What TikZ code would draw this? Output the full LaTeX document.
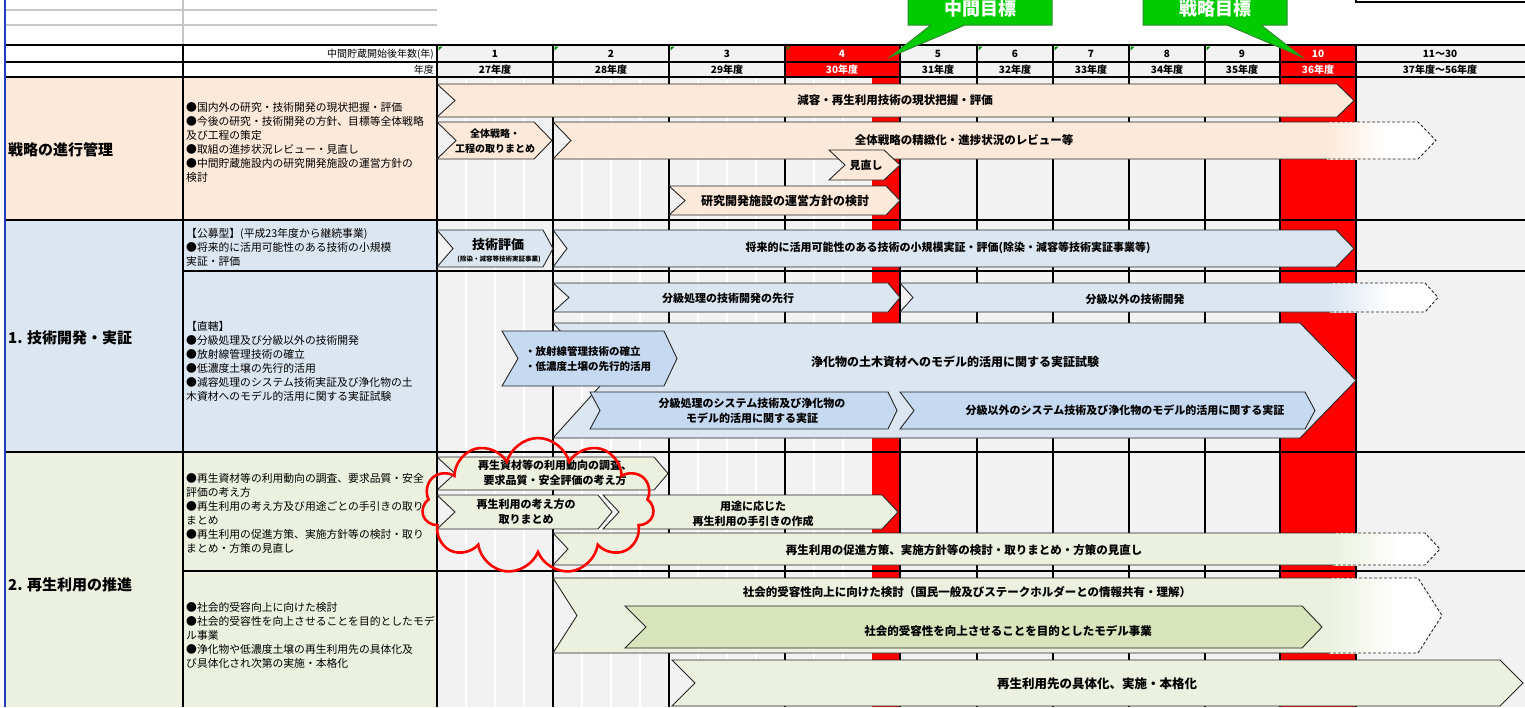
\documentclass[tikz,border=0pt]{standalone}
\usepackage{fontspec}
\setmainfont{Noto Sans CJK JP}
\usetikzlibrary{shapes.symbols}
\definecolor{Peach}{HTML}{FDE9D9}
\definecolor{PaleBlue}{HTML}{DCE6F1}
\definecolor{MidBlue}{HTML}{C5D9F1}
\definecolor{PaleGreen}{HTML}{EBF1DE}
\definecolor{MidGreen}{HTML}{D8E4BC}
\definecolor{CellGray}{HTML}{F2F2F2}
\definecolor{Marker}{HTML}{FF0000}
\definecolor{GoalGreen}{HTML}{00CC00}
\definecolor{GoalEdge}{HTML}{2E8B2E}
\definecolor{FrameBlue}{HTML}{1F3FBF}

% chevron bar: style, x left, y top, x tip, y bottom, notch depth, tip depth
\newcommand{\chevbar}[7]{%
  \filldraw[#1] (#2,#3) -- ({#4-#7},#3) -- (#4,{(#3+#5)/2}) -- ({#4-#7},#5)
    -- (#2,#5) -- ({#2+#6},{(#3+#5)/2}) -- cycle;}
% open-ended bar: colour, x left, y top, x tip, y bottom, depth, fade start, fade end
\newcommand{\fadebar}[8]{%
  \fill[#1] (#2,#3) -- (#7,#3) -- (#7,#5) -- (#2,#5) -- ({#2+#6},{(#3+#5)/2}) -- cycle;
  \shade[left color=#1, right color=white] (#7,#3) rectangle (#8,#5);
  \fill[white] (#8,#3) -- ({#4-#6},#3) -- (#4,{(#3+#5)/2}) -- ({#4-#6},#5) -- (#8,#5) -- cycle;
  \draw[barline] (#7,#3) -- (#2,#3) -- ({#2+#6},{(#3+#5)/2}) -- (#2,#5) -- (#7,#5);
  \draw[barline, dash pattern=on 3pt off 2pt] (#7,#3) -- ({#4-#6},#3) -- (#4,{(#3+#5)/2})
    -- ({#4-#6},#5) -- (#7,#5);}

\begin{document}
\begin{tikzpicture}[x=1pt, y=-1pt,
  barline/.style={draw=black!85, line width=0.9pt},
  yearline/.style={black, line width=1.3pt},
  quarterline/.style={white, line width=1.3pt},
  rule/.style={black, line width=2.4pt},
  thinrule/.style={black, line width=1.4pt},
  bartxt/.style={font=\bfseries\fontsize{#1}{15}\selectfont, align=center, inner sep=0pt},
  bartxt/.default=11,
  desc/.style={font=\fontsize{10.8}{14}\selectfont, align=left, anchor=north west, inner sep=0pt},
  cat/.style={font=\bfseries\fontsize{15}{18}\selectfont, anchor=west, inner sep=0pt},
  hdr/.style={font=\bfseries\fontsize{10}{12}\selectfont, inner sep=0pt},
  hdrleft/.style={font=\fontsize{10}{12}\selectfont, anchor=east, inner sep=0pt},
  goal/.style={fill=GoalGreen, draw=GoalEdge, line width=1pt},
  goaltxt/.style={font=\bfseries\fontsize{18}{20}\selectfont, text=white, inner sep=0pt}
]
\useasboundingbox (0,0) rectangle (1525,707);
\clip (0,0) rectangle (1525,707);
\fill[white] (0,0) rectangle (1525,707);

% Row colours
\fill[Peach] (5,77) rectangle (437,220);
\fill[PaleBlue] (5,220) rectangle (437,452);
\fill[PaleGreen] (5,452) rectangle (437,707);
\fill[CellGray] (437,45) rectangle (1525,707);
\fill[Marker] (785,45) rectangle (900,77);
\fill[Marker] (872,77) rectangle (900,707);
\fill[Marker] (1280,45) rectangle (1356,707);

% Grid
\foreach \x in {466,495,524,582,611,640,698,727,756,814,843}
  \draw[quarterline] (\x,79) -- (\x,707);
\foreach \x in {183,437,553,669,785,900,977,1053,1129,1205,1280,1356}
  \draw[yearline] (\x,45) -- (\x,707);
\draw[gray!45, line width=1.2pt] (183,0) -- (183,45) (5,10) -- (437,10) (5,25) -- (437,25);
\draw[rule] (5,45) -- (1525,45);
\draw[thinrule] (5,62) -- (1525,62);
\draw[rule] (5,77) -- (1525,77);
\draw[rule] (5,220) -- (1525,220);
\draw[thinrule] (183,271) -- (1525,271);
\draw[rule] (5,452) -- (1525,452);
\draw[thinrule] (183,571) -- (1525,571);
\draw[FrameBlue, line width=1.5pt] (5,0) -- (5,707);
\draw[thinrule] (1356,0) -- (1356,2) -- (1525,2);
\foreach \x in {437,553,669,785,900,977,1053,1129,1205}
  \fill[green!55!black] ({\x+1.5},46.5) -- ++(4,0) -- ++(-4,4) -- cycle;

% Header
\node[hdrleft] (hd-count) at (434,54) {中間貯蔵開始後年数(年)};
\node[hdrleft] (hd-fy) at (434,70) {年度};
\foreach \cx/\num/\fy/\tc [count=\i] in {495/1/27/black, 611/2/28/black, 727/3/29/black,
    842/4/30/white, 938/5/31/black, 1015/6/32/black, 1091/7/33/black, 1167/8/34/black,
    1242/9/35/black, 1318/10/36/white}{
  \node[hdr, text=\tc] (yr-\i) at (\cx,54) {\num};
  \node[hdr, text=\tc] (fy-\i) at (\cx,70) {\fy 年度};
}
\node[hdr] (yr-11) at (1440,54) {11～30};
\node[hdr] (fy-11) at (1440,70) {37年度～56年度};

% Left columns
\node[cat] (cat-strat) at (8,150) {戦略の進行管理};
\node[desc] (desc-strat) at (186,102) {●国内外の研究・技術開発の現状把握・評価\\
  ●今後の研究・技術開発の方針、目標等全体戦略\\及び工程の策定\\
  ●取組の進捗状況レビュー・見直し\\●中間貯蔵施設内の研究開発施設の運営方針の\\検討};
\node[cat] (cat-tech) at (8,338) {1. 技術開発・実証};
\node[desc] (desc-open) at (186,228) {【公募型】(平成23年度から継続事業)\\
  ●将来的に活用可能性のある技術の小規模\\実証・評価};
\node[desc] (desc-direct) at (186,321.5) {【直轄】\\●分級処理及び分級以外の技術開発\\
  ●放射線管理技術の確立\\●低濃度土壌の先行的活用\\
  ●減容処理のシステム技術実証及び浄化物の土\\木資材へのモデル的活用に関する実証試験};
\node[cat] (cat-reuse) at (8,585) {2. 再生利用の推進};
\node[desc] (desc-reuse) at (186,473) {●再生資材等の利用動向の調査、要求品質・安全\\評価の考え方\\
  ●再生利用の考え方及び用途ごとの手引きの取り\\まとめ\\
  ●再生利用の促進方策、実施方針等の検討・取り\\まとめ・方策の見直し};
\node[desc] (desc-accept) at (186,602) {●社会的受容向上に向けた検討\\
  ●社会的受容性を向上させることを目的としたモデ\\ル事業\\
  ●浄化物や低濃度土壌の再生利用先の具体化及\\び具体化され次第の実施・本格化};

% Strategy bars
\chevbar{fill=Peach, barline}{437}{84}{1354}{117}{18}{17}
\node[bartxt=11.5] (t-survey) at (895,100) {減容・再生利用技術の現状把握・評価};
\fadebar{Peach}{553}{122}{1436}{159}{18}{1327}{1385}
\node[bartxt=11.5] (t-refine) at (964,140) {全体戦略の精緻化・進捗状況のレビュー等};
\chevbar{fill=Peach, barline}{437}{122}{552}{159}{19}{18}
\node[bartxt=10] (t-plan) at (495,141) {全体戦略・\\工程の取りまとめ};
\chevbar{fill=Peach, barline}{829}{150}{900}{180}{16}{16}
\node[bartxt] (t-review) at (866,165) {見直し};
\chevbar{fill=Peach, barline}{669}{186}{900}{215}{16}{14}
\node[bartxt=12] (t-facility) at (785,201) {研究開発施設の運営方針の検討};

% Technology bars
\chevbar{fill=PaleBlue, barline}{553}{230}{1354}{267}{14}{18}
\node[bartxt] (t-small) at (948,248) {将来的に活用可能性のある技術の小規模実証・評価(除染・減容等技術実証事業等)};
\chevbar{fill=PaleBlue, barline}{437}{230}{553}{267}{16}{10}
\node[bartxt=13] (t-eval) at (498,245) {技術評価};
\node[bartxt=6.5] (t-eval-sub) at (499,259) {(除染・減容等技術実証事業)};
\chevbar{fill=PaleBlue, barline}{553}{283}{900}{312}{16}{12}
\node[bartxt] (t-class) at (728,298) {分級処理の技術開発の先行};
\fadebar{PaleBlue}{900}{283}{1438}{312}{13}{1330}{1392}
\node[bartxt] (t-nonclass) at (1135,299) {分級以外の技術開発};
\chevbar{fill=PaleBlue, barline}{553}{323}{1356}{438}{52}{56}
\node[bartxt=12] (t-civil) at (955,362) {浄化物の土木資材へのモデル的活用に関する実証試験};
\chevbar{fill=MidBlue, barline}{502}{331}{677}{386}{16}{13}
\node[bartxt=10.5, align=left, anchor=west] (t-radiation) at (525,359) {・放射線管理技術の確立\\・低濃度土壌の先行的活用};
\chevbar{fill=MidBlue, barline}{590}{392}{897}{429}{10}{9}
\node[bartxt] (t-sys-class) at (752,411) {分級処理のシステム技術及び浄化物の\\モデル的活用に関する実証};
\chevbar{fill=MidBlue, barline}{900}{392}{1315}{429}{14}{10}
\node[bartxt] (t-sys-other) at (1125,410) {分級以外のシステム技術及び浄化物のモデル的活用に関する実証};

% Reuse bars
\chevbar{fill=PaleGreen, barline}{437}{457}{668}{490}{18}{14}
\node[bartxt] (t-trend) at (555,473) {再生資材等の利用動向の調査、\\要求品質・安全評価の考え方};
\chevbar{fill=PaleGreen, barline}{603}{495}{898}{529}{16}{16}
\chevbar{fill=PaleGreen, barline}{437}{495}{612}{529}{18}{14}
\node[bartxt] (t-concept) at (526,512) {再生利用の考え方の\\取りまとめ};
\node[bartxt] (t-guide) at (753,514) {用途に応じた\\再生利用の手引きの作成};
\fadebar{PaleGreen}{553}{533}{1440}{565}{15}{1333}{1400}
\node[bartxt=11.5] (t-promote) at (964,550) {再生利用の促進方策、実施方針等の検討・取りまとめ・方策の見直し};
\fadebar{PaleGreen}{553}{578}{1442}{653}{24}{1329}{1395}
\node[bartxt=11.5] (t-accept) at (967,592) {社会的受容性向上に向けた検討（国民一般及びステークホルダーとの情報共有・理解）};
\chevbar{fill=MidGreen, barline}{625}{606}{1322}{648}{21}{20}
\node[bartxt=11.5] (t-model) at (1008,631) {社会的受容性を向上させることを目的としたモデル事業};
\chevbar{fill=PaleGreen, barline}{672}{660}{1523}{706}{23}{23}
\node[bartxt=12.5] (t-deploy) at (1097,684) {再生利用先の具体化、実施・本格化};

% Highlight
\node[cloud, cloud puffs=11, draw=Marker, line width=2.6pt, minimum width=232pt,
  minimum height=136pt] (cloud) at (538,506) {};

% Goals
\draw[goal] (908,-5) -- (1052,-5) -- (1052,25) -- (965,25) -- (890,57) -- (931,25) -- (908,25) -- cycle;
\node[goaltxt] (goal-mid) at (980,9) {中間目標};
\draw[goal] (1143,-5) -- (1287,-5) -- (1287,25) -- (1261,25) -- (1302,57) -- (1227,25) -- (1143,25) -- cycle;
\node[goaltxt] (goal-strat) at (1215,9) {戦略目標};
\end{tikzpicture}
\end{document}
